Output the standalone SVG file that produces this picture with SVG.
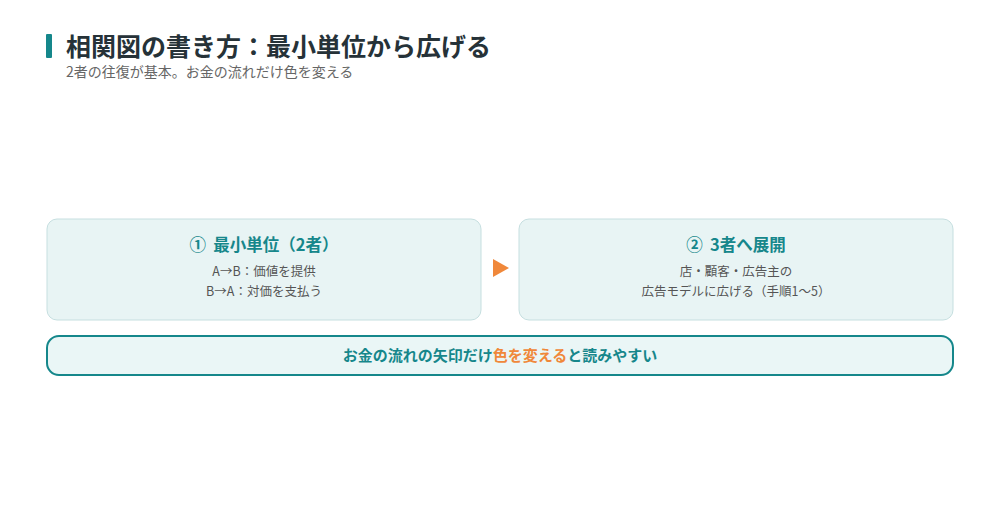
<svg xmlns="http://www.w3.org/2000/svg" width="1000" height="523" viewBox="0 0 1000 523">
<style>
text{font-family:"Noto Sans CJK JP","Noto Sans",sans-serif}
.card{fill:#e8f4f4;stroke:#c6dfe0;stroke-width:1}
.ct{font-size:16.5px;font-weight:700;fill:#16878b;text-anchor:middle;white-space:pre}
.cl{font-size:12.5px;fill:#555;text-anchor:middle}
</style>
<rect width="1000" height="523" fill="#fff"/>
<g id="header">
<rect x="46" y="34" width="6" height="24" rx="1" fill="#15878b"/>
<text x="66" y="56" font-size="25" font-weight="700" fill="#263238">相関図の書き方：最小単位から広げる</text>
<text x="66" y="77" font-size="14" fill="#666">2者の往復が基本。お金の流れだけ色を変える</text>
</g>
<g id="node1">
<rect class="card" x="47" y="219" width="434" height="101" rx="10"/>
<text class="ct" x="264" y="251">①  最小単位（2者）</text>
<text class="cl" x="264" y="276">A→B：価値を提供</text>
<text class="cl" x="264" y="296">B→A：対価を支払う</text>
</g>
<g id="connectors">
<polygon points="493,259 509,268 493,277" fill="#f0883a"/>
</g>
<g id="node2">
<rect class="card" x="519" y="219" width="434" height="101" rx="10"/>
<text class="ct" x="736" y="251">②  3者へ展開</text>
<text class="cl" x="736" y="276">店・顧客・広告主の</text>
<text class="cl" x="736" y="296">広告モデルに広げる（手順1〜5）</text>
</g>
<g id="note">
<rect x="47" y="336" width="906" height="39" rx="12" fill="#eaf6f6" stroke="#15878b" stroke-width="2"/>
<text x="500" y="361" font-size="15" font-weight="700" fill="#16878b" text-anchor="middle">お金の流れの矢印だけ<tspan fill="#f0883a">色を変える</tspan>と読みやすい</text>
</g>
</svg>
